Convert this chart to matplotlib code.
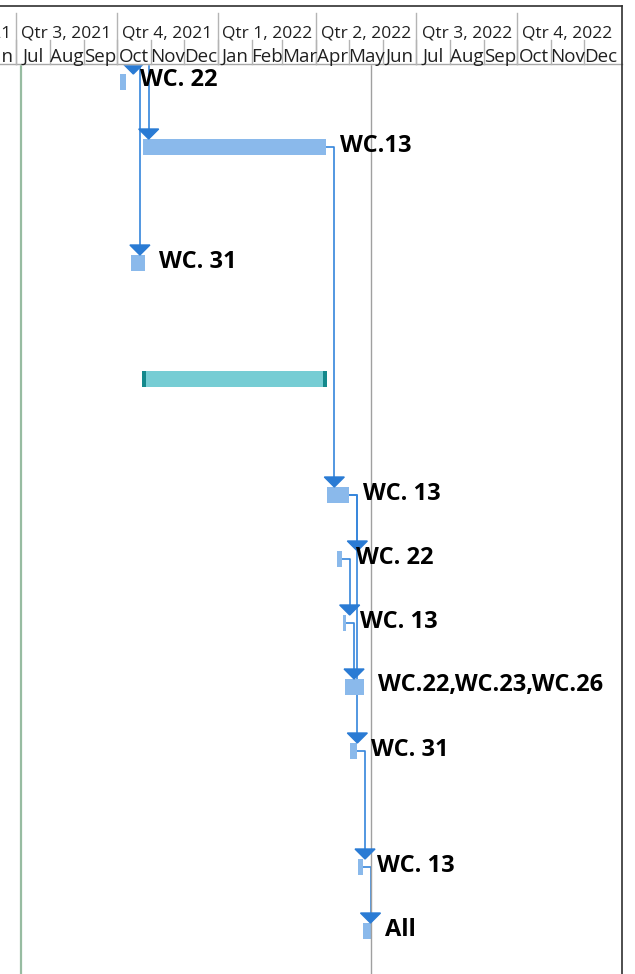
import datetime as dt
import matplotlib
matplotlib.use('Agg')
import matplotlib.pyplot as plt
import matplotlib.dates as mdates
from matplotlib.patches import Polygon

# ---- data -------------------------------------------------------------
task_labels = ['WC. 22', 'WC.13', 'WC. 31', '', 'WC. 13', 'WC. 22',
               'WC. 13', 'WC.22,WC.23,WC.26', 'WC. 31', 'WC. 13', 'All']
task_start = ['2021-10-04', '2021-10-25', '2021-10-14', '2021-10-24',
              '2022-04-11', '2022-04-20', '2022-04-25', '2022-04-27',
              '2022-05-02', '2022-05-09', '2022-05-13']
task_end = ['2021-10-09', '2022-04-10', '2021-10-27', '2022-04-11',
            '2022-05-01', '2022-04-24', '2022-04-28', '2022-05-14',
            '2022-05-08', '2022-05-13', '2022-05-21']
task_kind = ['task', 'task', 'task', 'summary', 'task', 'task',
             'task', 'task', 'task', 'task', 'task']
# row centre of every task line in the sheet (pixels from the top)
row_y = [82, 147, 263, 379, 495, 559, 623, 687, 751, 867, 931]

# links: (predecessor row, successor row)
links = [(1, 4), (4, 5), (5, 6), (6, 7), (4, 8), (8, 9), (9, 10)]
# links coming from tasks above the visible part: (successor row, date)
links_from_above = [(0, '2021-10-16'), (1, '2021-10-30'), (2, '2021-10-22')]

status_date = '2022-05-21'
project_start = '2021-07-06'

quarters = ['Qtr 2, 2021', 'Qtr 3, 2021', 'Qtr 4, 2021', 'Qtr 1, 2022',
            'Qtr 2, 2022', 'Qtr 3, 2022', 'Qtr 4, 2022']
quarter_start = ['2021-04-01', '2021-07-01', '2021-10-01', '2022-01-01',
                 '2022-04-01', '2022-07-01', '2022-10-01', '2023-01-01']
months = ['Jun', 'Jul', 'Aug', 'Sep', 'Oct', 'Nov', 'Dec', 'Jan', 'Feb',
          'Mar', 'Apr', 'May', 'Jun', 'Jul', 'Aug', 'Sep', 'Oct', 'Nov', 'Dec']
month_start = ['2021-06-01', '2021-07-01', '2021-08-01', '2021-09-01',
               '2021-10-01', '2021-11-01', '2021-12-01', '2022-01-01',
               '2022-02-01', '2022-03-01', '2022-04-01', '2022-05-01',
               '2022-06-01', '2022-07-01', '2022-08-01', '2022-09-01',
               '2022-10-01', '2022-11-01', '2022-12-01', '2023-01-01']

BAR = '#8ab9eb'
LINK = '#3585dc'
ARROW = '#2a7bd4'
TEAL = '#76cdd4'
TEAL_DARK = '#13898c'
FONT = 'Open Sans'


def d(s):
    return mdates.date2num(dt.datetime.strptime(s, '%Y-%m-%d'))


W, H = 635, 974
fig = plt.figure(figsize=(W / 100, H / 100), dpi=100)
ax = fig.add_axes([0, 0, 1, 1])
x0 = mdates.date2num(dt.datetime(2021, 6, 16, 10))
x1 = mdates.date2num(dt.datetime(2023, 1, 16, 12))
ax.set_xlim(x0, x1)
ax.set_ylim(H, 0)
ax.axis('off')
px = (x1 - x0) / W  # days per pixel

HDR = 64
BH = 16

# vertical lines in the chart area
ax.plot([d(project_start)] * 2, [HDR, H], color='#97bca1', lw=1.6, zorder=1)
ax.plot([d(status_date)] * 2, [HDR, H], color='#a0a0a0', lw=1.0, zorder=4)

starts = [d(s) for s in task_start]
ends = [d(e) for e in task_end]

# bars
for i in range(len(task_labels)):
    if task_kind[i] == 'summary':
        ax.barh(row_y[i], ends[i] - starts[i], left=starts[i], height=BH,
                color=TEAL, zorder=3)
        for cx in (starts[i], ends[i] - 4 * px):
            ax.barh(row_y[i], 4 * px, left=cx, height=BH,
                    color=TEAL_DARK, zorder=3)
    else:
        ax.barh(row_y[i], ends[i] - starts[i], left=starts[i], height=BH,
                color=BAR, zorder=3)
    if task_labels[i]:
        ax.annotate(task_labels[i], (ends[i], row_y[i]),
                    xytext=(14, -4.5), textcoords='offset pixels',
                    ha='left', va='baseline', fontsize=17,
                    fontweight='bold', family=FONT, zorder=6)


def arrow(xc, row):
    top = row_y[row] - BH / 2
    tri = Polygon([[xc - 10 * px, top - 10], [xc + 10 * px, top - 10],
                   [xc, top]], closed=True, color=ARROW, zorder=5)
    ax.add_patch(tri)


# links between visible tasks
for a, b in links:
    xd = ends[a] + 8 * px
    ax.plot([ends[a], xd, xd], [row_y[a], row_y[a], row_y[b] - BH / 2 - 9],
            color=LINK, lw=1.2, zorder=2)
    arrow(xd, b)

# links from tasks above the view
for b, s in links_from_above:
    ax.plot([d(s)] * 2, [0, row_y[b] - BH / 2 - 9], color=LINK, lw=1.2,
            zorder=2)
    arrow(d(s), b)

# ---- timescale header -------------------------------------------------
ax.axhspan(0, HDR, color='white', zorder=10)
ax.plot([x0, x0 + 622 * px], [6, 6], color='#303030', lw=1.2, zorder=11)
ax.plot([x0, x0 + 622 * px], [HDR, HDR], color='#a8a8a8', lw=1.0, zorder=11)
ax.plot([x0 + 622 * px] * 2, [6, H], color='#303030', lw=1.2, zorder=11)

for i, q in enumerate(quarters):
    qa, qb = d(quarter_start[i]), d(quarter_start[i + 1])
    ax.plot([qa, qa], [13, HDR], color='#b4b4b4', lw=1.0, zorder=11)
    ax.text((qa + qb) / 2, 37, q, ha='center', va='baseline', fontsize=12.5,
            family=FONT, color='#202020', zorder=12, clip_on=True)
for i, m in enumerate(months):
    ma, mb = d(month_start[i]), d(month_start[i + 1])
    ax.plot([ma, ma], [40, HDR], color='#b4b4b4', lw=1.0, zorder=11)
    ax.text((ma + mb) / 2, 62, m, ha='center', va='baseline', fontsize=13.5,
            family=FONT, color='#202020', zorder=12, clip_on=True)

fig.savefig('out.png', dpi=100)
